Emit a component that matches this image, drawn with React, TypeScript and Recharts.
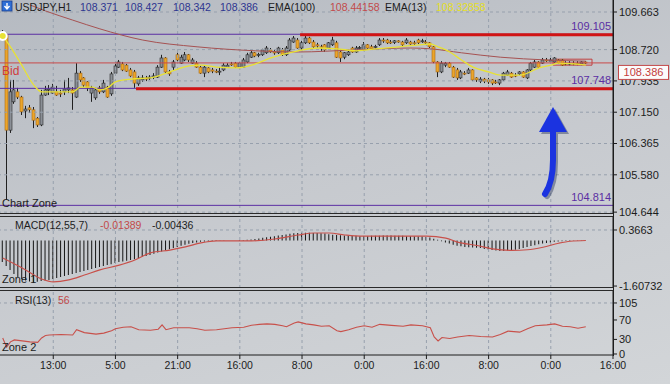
import React from "react";
import {
  ComposedChart,
  Bar,
  Line,
  XAxis,
  YAxis,
  ReferenceLine,
  ReferenceArea,
} from "recharts";

const FONT = "'Liberation Sans', Arial, sans-serif";
const INK = "#1c1c1c";
const GRID = "#97a0ad";
const PURPLE = "#5b2fa3";
const RED = "#d11414";

// bar index of every 16th hour, and the labels shown under them
const timeTicks = [13, 29, 45, 61, 77, 93, 109, 125, 141, 157];
const timeLabels = ["13:00", "5:00", "21:00", "16:00", "8:00", "0:00", "16:00", "8:00", "0:00", "16:00"];

// USDJPY H1 candles, one per bar index 0..150
const opens = [
  109.04, 109.09, 106.7, 107.41, 107.66, 107.53, 107.18, 107.26, 107.21, 107.0,
  106.83, 107.58, 107.71, 107.63, 107.66, 107.63, 107.66, 107.71, 107.71, 107.53,
  108.13, 108.01, 107.91, 107.63, 107.51, 107.76, 107.66, 107.78, 107.61, 108.13,
  108.28, 108.36, 108.33, 108.21, 108.16, 107.86, 107.96, 108.01, 108.01, 108.03,
  108.03, 108.28, 108.51, 108.16, 108.28, 108.59, 108.38, 108.46, 108.59, 108.38,
  108.38, 108.28, 108.13, 108.26, 108.21, 108.18, 108.16, 108.21, 108.28, 108.36,
  108.38, 108.28, 108.28, 108.41, 108.53, 108.64, 108.59, 108.59, 108.64, 108.71,
  108.66, 108.64, 108.71, 108.59, 108.71, 108.91, 108.96, 108.76, 108.89, 109.01,
  108.91, 108.84, 108.79, 108.84, 108.76, 108.84, 108.89, 108.66, 108.53, 108.59,
  108.76, 108.66, 108.76, 108.71, 108.84, 108.79, 108.79, 108.84, 108.96, 108.96,
  108.91, 108.9, 108.94, 108.91, 108.89, 108.91, 108.89, 108.96, 108.92, 108.91,
  108.89, 108.79, 108.41, 108.16, 108.33, 108.38, 108.28, 108.21, 108.01, 108.13,
  108.13, 108.21, 108.01, 107.93, 107.98, 107.96, 107.96, 107.91, 107.88, 107.96,
  108.08, 108.13, 108.08, 108.11, 108.16, 108.01, 108.21, 108.28, 108.41, 108.38,
  108.46, 108.43, 108.41, 108.46, 108.46, 108.38, 108.36, 108.38, 108.38, 108.36, 108.41,
];
const closes = [
  109.14, 106.7, 107.66, 107.71, 107.53, 107.16, 107.23, 107.21, 106.95, 106.83,
  107.58, 107.71, 107.73, 107.78, 107.58, 107.61, 107.73, 107.76, 107.63, 108.13,
  107.96, 107.83, 107.76, 107.76, 107.71, 107.66, 107.88, 107.53, 108.11, 108.31,
  108.41, 108.21, 108.18, 108.06, 107.88, 108.01, 108.01, 107.98, 108.03, 108.06,
  108.28, 108.51, 108.16, 108.11, 108.41, 108.46, 108.53, 108.59, 108.46, 108.46,
  108.28, 108.13, 108.28, 108.16, 108.18, 108.17, 108.18, 108.33, 108.33, 108.35,
  108.28, 108.38, 108.46, 108.59, 108.64, 108.56, 108.6, 108.71, 108.76, 108.66,
  108.64, 108.76, 108.59, 108.76, 108.96, 109.01, 108.76, 108.89, 109.01, 108.89,
  108.79, 108.81, 108.76, 108.71, 108.89, 108.96, 108.53, 108.51, 108.64, 108.66,
  108.66, 108.76, 108.77, 108.84, 108.76, 108.74, 108.8, 108.96, 108.95, 108.89,
  108.9, 108.94, 108.91, 108.84, 108.96, 108.86, 108.87, 108.89, 108.94, 108.9,
  108.79, 108.41, 108.16, 108.38, 108.38, 108.28, 108.03, 108.01, 108.16, 108.12,
  108.21, 107.96, 107.96, 107.98, 107.93, 107.91, 107.88, 107.9, 107.96, 108.13,
  108.16, 108.03, 108.07, 108.16, 108.03, 108.21, 108.38, 108.41, 108.28, 108.46,
  108.45, 108.46, 108.51, 108.38, 108.33, 108.37, 108.38, 108.37, 108.36, 108.41, 108.38,
];
const highs = [
  109.21, 109.14, 107.96, 107.96, 107.76, 107.56, 107.31, 107.33, 107.28, 107.03,
  107.71, 107.81, 107.83, 107.86, 107.81, 107.71, 107.96, 108.01, 107.78, 108.38,
  108.18, 108.03, 107.93, 107.81, 107.76, 107.81, 107.96, 107.81, 108.16, 108.36,
  108.46, 108.41, 108.36, 108.26, 108.21, 108.06, 108.08, 108.06, 108.08, 108.13,
  108.33, 108.59, 108.53, 108.21, 108.46, 108.64, 108.59, 108.66, 108.61, 108.51,
  108.43, 108.31, 108.33, 108.28, 108.26, 108.23, 108.28, 108.38, 108.38, 108.41,
  108.41, 108.41, 108.51, 108.64, 108.69, 108.66, 108.64, 108.74, 108.81, 108.76,
  108.71, 108.79, 108.76, 108.81, 109.01, 109.06, 109.01, 108.94, 109.09, 109.04,
  108.96, 108.89, 108.84, 108.86, 108.91, 109.04, 108.94, 108.71, 108.66, 108.71,
  108.79, 108.81, 108.81, 108.91, 108.86, 108.84, 108.84, 109.01, 109.01, 108.99,
  108.96, 108.96, 108.96, 108.94, 109.01, 108.94, 108.94, 108.99, 108.99, 108.96,
  108.91, 108.81, 108.43, 108.43, 108.41, 108.41, 108.31, 108.26, 108.21, 108.18,
  108.26, 108.23, 108.03, 108.03, 108.01, 108.01, 107.98, 107.96, 107.98, 108.16,
  108.21, 108.16, 108.13, 108.18, 108.18, 108.23, 108.41, 108.46, 108.43, 108.51,
  108.51, 108.51, 108.53, 108.48, 108.48, 108.43, 108.43, 108.43, 108.43, 108.43, 108.43,
];
const lows = [
  109.01, 104.95, 106.63, 107.36, 107.48, 107.08, 107.0, 107.13, 106.75, 106.78,
  106.8, 107.56, 107.58, 107.61, 107.56, 107.53, 107.58, 107.63, 107.21, 107.51,
  107.91, 107.78, 107.68, 107.41, 107.46, 107.61, 107.63, 107.51, 107.56, 108.11,
  108.26, 108.18, 108.16, 108.03, 107.76, 107.81, 107.91, 107.93, 107.96, 107.98,
  108.01, 108.26, 108.11, 108.06, 108.21, 108.41, 108.36, 108.43, 108.41, 108.36,
  108.26, 108.11, 108.03, 108.13, 108.13, 108.13, 108.08, 108.18, 108.26, 108.31,
  108.26, 108.26, 108.26, 108.38, 108.51, 108.53, 108.53, 108.56, 108.61, 108.64,
  108.59, 108.61, 108.56, 108.56, 108.69, 108.89, 108.74, 108.71, 108.86, 108.86,
  108.76, 108.76, 108.69, 108.66, 108.74, 108.81, 108.51, 108.41, 108.48, 108.56,
  108.64, 108.64, 108.71, 108.69, 108.74, 108.71, 108.74, 108.81, 108.89, 108.86,
  108.86, 108.86, 108.89, 108.81, 108.86, 108.84, 108.84, 108.86, 108.89, 108.86,
  108.76, 108.38, 108.03, 108.13, 108.28, 108.26, 108.01, 107.96, 107.98, 108.08,
  108.11, 107.93, 107.91, 107.88, 107.88, 107.86, 107.83, 107.86, 107.83, 107.93,
  108.06, 108.01, 108.03, 108.08, 108.01, 107.98, 108.18, 108.26, 108.26, 108.36,
  108.41, 108.41, 108.38, 108.36, 108.31, 108.33, 108.33, 108.33, 108.33, 108.33, 108.36,
];

// moving averages read at a few bars
const ema13Idx = [0, 2, 5, 8, 10, 18, 20, 23, 25, 27, 29, 33, 38, 43, 48, 51, 55, 60, 65, 69, 76, 81, 86, 91, 96, 102, 107, 110, 112, 115, 118, 121, 125, 128, 133, 138, 141, 143, 147, 150];
const ema13Val = [
  109.06, 108.79, 108.31, 107.83, 107.66, 107.66, 107.78, 107.78, 107.71, 107.76,
  107.91, 107.98, 108.01, 108.16, 108.31, 108.33, 108.28, 108.26, 108.36, 108.51,
  108.69, 108.76, 108.74, 108.69, 108.74, 108.79, 108.84, 108.86, 108.79, 108.66,
  108.46, 108.28, 108.16, 108.08, 108.08, 108.26, 108.33, 108.38, 108.36, 108.33,
];
const ema100Idx = [7, 11, 18, 25, 36, 50, 65, 76, 90, 105, 110, 118, 128, 140, 150];
const ema100Val = [109.84, 109.69, 109.46, 109.24, 108.96, 108.79, 108.69, 108.66, 108.71, 108.76, 108.74, 108.64, 108.53, 108.46, 108.43];

const levels = [109.105, 107.748, 104.814];
const bidPrice = 108.386;
const quote = ["108.371", "108.427", "108.342", "108.386"];

// MACD(12,55,7) histogram, one per bar
const macdHist = [
  -0.76, -0.9, -1.04, -1.18, -1.29, -1.36, -1.41, -1.45, -1.47, -1.46,
  -1.43, -1.41, -1.39, -1.36, -1.32, -1.29, -1.25, -1.22, -1.18, -1.15,
  -1.11, -1.08, -1.04, -1.01, -0.97, -0.94, -0.9, -0.87, -0.84, -0.8,
  -0.76, -0.74, -0.72, -0.69, -0.66, -0.62, -0.58, -0.55, -0.51, -0.47,
  -0.43, -0.39, -0.35, -0.31, -0.27, -0.23, -0.19, -0.15, -0.12, -0.09,
  -0.07, -0.05, -0.04, -0.03, -0.02, -0.02, -0.01, -0.01, 0.0, 0.0,
  0.0, 0.01, 0.01, 0.02, 0.03, 0.05, 0.07, 0.09, 0.11, 0.13,
  0.15, 0.17, 0.19, 0.21, 0.23, 0.25, 0.26, 0.27, 0.27, 0.27,
  0.26, 0.26, 0.25, 0.24, 0.22, 0.2, 0.19, 0.18, 0.17, 0.17,
  0.16, 0.16, 0.15, 0.15, 0.15, 0.16, 0.16, 0.16, 0.17, 0.17,
  0.17, 0.16, 0.16, 0.16, 0.15, 0.15, 0.15, 0.14, 0.14, 0.12,
  0.1, 0.06, 0.02, -0.03, -0.07, -0.11, -0.15, -0.19, -0.21, -0.23,
  -0.24, -0.25, -0.26, -0.27, -0.3, -0.32, -0.34, -0.36, -0.37, -0.37,
  -0.36, -0.35, -0.33, -0.3, -0.27, -0.23, -0.2, -0.17, -0.14, -0.11,
  -0.09, -0.07, -0.05, -0.04, -0.03, -0.02, -0.02, -0.01, -0.01, -0.01, -0.014,
];
const signalIdx = [0, 5, 10, 13, 17, 21, 25, 30, 34, 38, 43, 47, 51, 55, 63, 70, 76, 80, 84, 88, 92, 109, 114, 117, 122, 126, 131, 135, 139, 143, 146, 150];
const signalVal = [
  -0.62, -0.97, -1.36, -1.46, -1.39, -1.22, -1.04, -0.87, -0.69, -0.44,
  -0.34, -0.23, -0.09, -0.02, -0.02, 0.05, 0.19, 0.26, 0.26, 0.19,
  0.15, 0.15, 0.08, -0.06, -0.18, -0.3, -0.35, -0.33, -0.24, -0.1,
  -0.03, -0.004,
];

// RSI(13)
const rsiIdx = [0, 1, 2, 3, 5, 7, 9, 10, 11, 12, 15, 18, 19, 21, 24, 26, 28, 29, 31, 33, 35, 38, 40, 41, 42, 44, 48, 50, 52, 55, 57, 59, 62, 64, 66, 68, 70, 72, 73, 75, 76, 78, 80, 82, 84, 86, 87, 89, 91, 93, 95, 97, 100, 103, 105, 108, 110, 111, 112, 113, 115, 117, 120, 123, 126, 128, 130, 133, 135, 137, 140, 142, 144, 146, 148, 150];
const rsiVal = [
  33, 14, 25, 29, 27, 25, 24, 33, 38, 39, 40, 39, 50, 44, 41, 43, 48, 52, 55, 56,
  50, 49, 51, 60, 50, 54, 54, 52, 49, 50, 52, 54, 55, 59, 61, 62, 61, 58, 56, 64,
  66, 62, 60, 57, 58, 48, 46, 50, 55, 58, 55, 61, 59, 57, 60, 58, 54, 35, 27, 34,
  32, 35, 38, 36, 35, 40, 47, 45, 52, 58, 60, 62, 57, 56, 53, 56,
];

const priceTicks = [104.644, 105.58, 106.365, 107.15, 107.935, 108.72, 109.663];
const macdTicks = [-1.60732, 0.3663];
const rsiTicks = [0, 30, 70, 105];

const X_DOMAIN: [number, number] = [-0.7, 157];
const PRICE_DOMAIN: [number, number] = [104.597, 109.964];
const MAIN_H = 214;

const pick = (idx: number[], val: number[], k: number) => {
  const i = idx.indexOf(k);
  return i >= 0 ? val[i] : null;
};

const priceRows = opens.map((o, k) => ({
  k,
  o,
  c: closes[k],
  h: highs[k],
  l: lows[k],
  range: [lows[k], highs[k]],
  ema13: pick(ema13Idx, ema13Val, k),
  ema100: pick(ema100Idx, ema100Val, k),
}));
const macdRows = macdHist.map((m, k) => ({ k, macd: m, signal: pick(signalIdx, signalVal, k) }));
const rsiRows = macdHist.map((_, k) => ({ k, rsi: pick(rsiIdx, rsiVal, k) }));

// y of the bid price in the price panel (same linear map the axis uses)
const bidY = ((PRICE_DOMAIN[1] - bidPrice) / (PRICE_DOMAIN[1] - PRICE_DOMAIN[0])) * MAIN_H;

const axisTick = { fill: INK, fontSize: 11, fontFamily: FONT };

function Candle(props: any) {
  const { x, y, width, height, payload } = props;
  if (!payload || x == null || y == null) return null;
  const { o, c, h, l } = payload;
  const top = height < 0 ? y + height : y;
  const span = Math.abs(height);
  const ppu = span / (h - l);
  const yOpen = top + (h - o) * ppu;
  const yClose = top + (h - c) * ppu;
  const cx = Math.floor(x + width / 2) + 0.5;
  const bull = c >= o;
  const bodyTop = Math.min(yOpen, yClose);
  const bodyH = Math.max(1, Math.abs(yOpen - yClose));
  return (
    <g>
      <line x1={cx} x2={cx} y1={top} y2={top + span} stroke="#202020" strokeWidth={1} />
      <rect
        x={cx - 1.5}
        y={bodyTop}
        width={3}
        height={bodyH}
        fill={bull ? "#8a8f96" : "#eba52b"}
        stroke={bull ? "#2a2a2a" : "#a86a16"}
        strokeWidth={0.6}
      />
    </g>
  );
}

const levelTag = (text: string) => (props: any) => {
  const vb = props.viewBox;
  if (!vb) return null;
  return (
    <text x={vb.x + vb.width - 2} y={vb.y - 4} textAnchor="end" fill={PURPLE} fontSize={11} fontFamily={FONT}>
      {text}
    </text>
  );
};

const vGrid = (prefix: string) =>
  timeTicks.slice(0, -1).map((t) => (
    <ReferenceLine key={prefix + t} x={t} stroke={GRID} strokeDasharray="3 3" />
  ));

function Txt({ x, y, color = INK, size = 10.5, children }: any) {
  return (
    <span
      style={{
        position: "absolute",
        left: x,
        top: y,
        color,
        fontSize: size,
        lineHeight: "12px",
        whiteSpace: "nowrap",
        fontFamily: FONT,
      }}
    >
      {children}
    </span>
  );
}

function Rule({ y }: { y: number }) {
  return <div style={{ position: "absolute", left: 0, top: y, width: 614, height: 1, background: "#2a2a2a" }} />;
}

export default function App() {
  return (
    <div
      style={{
        position: "absolute",
        left: 0,
        top: 0,
        width: 670,
        height: 384,
        overflow: "hidden",
        background: "linear-gradient(165deg, #b5bac1 0%, #c6c9ce 45%, #d2d5d8 100%)",
        fontFamily: FONT,
      }}
    >
      <style>{`.recharts-surface { overflow: visible; } .recharts-wrapper { overflow: visible; }`}</style>

      {/* price panel */}
      <div style={{ position: "absolute", left: 0, top: 0 }}>
        <ComposedChart width={670} height={MAIN_H} data={priceRows} margin={{ top: 0, right: 0, bottom: 0, left: 0 }}>
          <XAxis dataKey="k" type="number" domain={X_DOMAIN} ticks={timeTicks} hide allowDataOverflow />
          <YAxis
            orientation="right"
            width={57}
            domain={PRICE_DOMAIN}
            allowDataOverflow
            ticks={priceTicks}
            interval={0}
            tickFormatter={(v: number) => v.toFixed(3)}
            tick={axisTick}
            tickSize={4}
            tickMargin={2}
            tickLine={{ stroke: INK }}
            axisLine={{ stroke: INK }}
          />
          {priceTicks.map((v) => (
            <ReferenceLine key={"h" + v} y={v} stroke={GRID} strokeDasharray="3 3" />
          ))}
          {vGrid("pv")}
          {levels.map((v) => (
            <ReferenceLine key={"lv" + v} y={v} stroke={PURPLE} label={levelTag(v.toFixed(3))} />
          ))}
          <ReferenceLine y={bidPrice} stroke="#c94a4a" />
          <ReferenceLine segment={[{ x: 76.5, y: 109.09 }, { x: 157, y: 109.09 }]} stroke={RED} strokeWidth={3} />
          <ReferenceLine segment={[{ x: 34.3, y: 107.74 }, { x: 157, y: 107.74 }]} stroke={RED} strokeWidth={3} />
          <ReferenceArea x1={141.6} x2={151.6} y1={108.33} y2={108.48} fill="none" stroke="#c04040" strokeWidth={1} />
          <Bar dataKey="range" barSize={3} isAnimationActive={false} shape={(p: any) => <Candle {...p} />} />
          <Line dataKey="ema100" type="monotone" stroke="#a65252" strokeWidth={1} dot={false} connectNulls isAnimationActive={false} />
          <Line dataKey="ema13" type="monotone" stroke="#e8e234" strokeWidth={1.3} dot={false} connectNulls isAnimationActive={false} />
        </ComposedChart>
      </div>

      {/* MACD panel */}
      <div style={{ position: "absolute", left: 0, top: 216 }}>
        <ComposedChart width={670} height={72} data={macdRows} margin={{ top: 0, right: 0, bottom: 0, left: 0 }}>
          <XAxis dataKey="k" type="number" domain={X_DOMAIN} hide allowDataOverflow />
          <YAxis
            orientation="right"
            width={57}
            domain={[-1.676, 0.859]}
            allowDataOverflow
            ticks={macdTicks}
            interval={0}
            tickFormatter={(v: number) => String(v)}
            tick={axisTick}
            tickSize={4}
            tickMargin={2}
            tickLine={{ stroke: INK }}
            axisLine={{ stroke: INK }}
          />
          <ReferenceLine y={0.3663} stroke={GRID} strokeDasharray="3 3" />
          {vGrid("mv")}
          <Bar dataKey="macd" barSize={1} fill="#151515" isAnimationActive={false} />
          <Line dataKey="signal" type="monotone" stroke="#c8504a" strokeWidth={1.2} dot={false} connectNulls isAnimationActive={false} />
        </ComposedChart>
      </div>

      {/* RSI panel */}
      <div style={{ position: "absolute", left: 0, top: 290 }}>
        <ComposedChart width={670} height={94} data={rsiRows} margin={{ top: 0, right: 0, bottom: 0, left: 0 }}>
          <XAxis
            dataKey="k"
            type="number"
            domain={X_DOMAIN}
            allowDataOverflow
            ticks={timeTicks}
            interval={0}
            height={29}
            tickFormatter={(v: number) => timeLabels[timeTicks.indexOf(v)] ?? ""}
            tick={{ fill: INK, fontSize: 10.5, fontFamily: FONT }}
            tickSize={4}
            tickMargin={3}
            tickLine={{ stroke: INK }}
            axisLine={{ stroke: INK }}
          />
          <YAxis
            orientation="right"
            width={57}
            domain={[-2.06, 131.7]}
            allowDataOverflow
            ticks={rsiTicks}
            interval={0}
            tick={axisTick}
            tickSize={4}
            tickMargin={2}
            tickLine={{ stroke: INK }}
            axisLine={{ stroke: INK }}
          />
          <ReferenceLine y={105} stroke={GRID} strokeDasharray="3 3" />
          {vGrid("rv")}
          <Line dataKey="rsi" type="linear" stroke="#c8504a" strokeWidth={1.1} dot={false} connectNulls isAnimationActive={false} />
        </ComposedChart>
      </div>

      {/* panel frames */}
      <Rule y={213} />
      <Rule y={216} />
      <Rule y={287} />
      <Rule y={290} />
      <div style={{ position: "absolute", left: 613, top: 0, width: 1, height: 356, background: INK }} />

      {/* annotations */}
      <svg width={670} height={384} style={{ position: "absolute", left: 0, top: 0, pointerEvents: "none" }}>
        <rect x={2} y={1} width={10} height={10} fill="#2f6fd6" stroke="#1b3f8f" strokeWidth={0.8} />
        <path d="M7 3 L7 8 M4.5 6 L7 9 L9.5 6" stroke="#fff" strokeWidth={1.4} fill="none" />
        <g transform="translate(2,2)" opacity={0.35}>
          <path d="M545 194 Q553 182 553 160 L553 130" stroke="#001040" strokeWidth={6} fill="none" strokeLinecap="round" />
          <polygon points="539,132 567,132 553,107" fill="#001040" />
        </g>
        <path d="M545 194 Q553 182 553 160 L553 130" stroke="#1b33e0" strokeWidth={6} fill="none" strokeLinecap="round" />
        <polygon points="539,132 567,132 553,107" fill="#1b33e0" />
        <g>
          <rect x={618.5} y={bidY + 2.5} width={50} height={14} fill="#fbfbfb" stroke="#c44a4a" />
          <text x={643.5} y={bidY + 13.5} textAnchor="middle" fill="#c43c3c" fontSize={11} fontFamily={FONT}>
            {bidPrice.toFixed(3)}
          </text>
        </g>
      </svg>

      <Txt x={15} y={1}>USDJPY,H1</Txt>
      <Txt x={80} y={1} color="#2d3590">{quote[0]}</Txt>
      <Txt x={125} y={1} color="#2d3590">{quote[1]}</Txt>
      <Txt x={173} y={1} color="#2d3590">{quote[2]}</Txt>
      <Txt x={220} y={1} color="#2d3590">{quote[3]}</Txt>
      <Txt x={268} y={1}>EMA(100)</Txt>
      <Txt x={330} y={1} color="#c24a4a">108.44158</Txt>
      <Txt x={385} y={1}>EMA(13)</Txt>
      <Txt x={436} y={1} color="#e4de26">108.32858</Txt>
      <Txt x={2} y={65} color="#d03c3c" size={12}>Bid</Txt>
      <Txt x={2} y={197} size={11}>Chart Zone</Txt>
      <Txt x={15} y={219}>MACD(12,55,7)</Txt>
      <Txt x={100} y={219} color="#c24a4a">-0.01389</Txt>
      <Txt x={152} y={219}>-0.00436</Txt>
      <Txt x={2} y={273} size={11}>Zone 1</Txt>
      <Txt x={15} y={294}>RSI(13)</Txt>
      <Txt x={58} y={294} color="#c24a4a">56</Txt>
      <Txt x={2} y={341} size={11}>Zone 2</Txt>
    </div>
  );
}
